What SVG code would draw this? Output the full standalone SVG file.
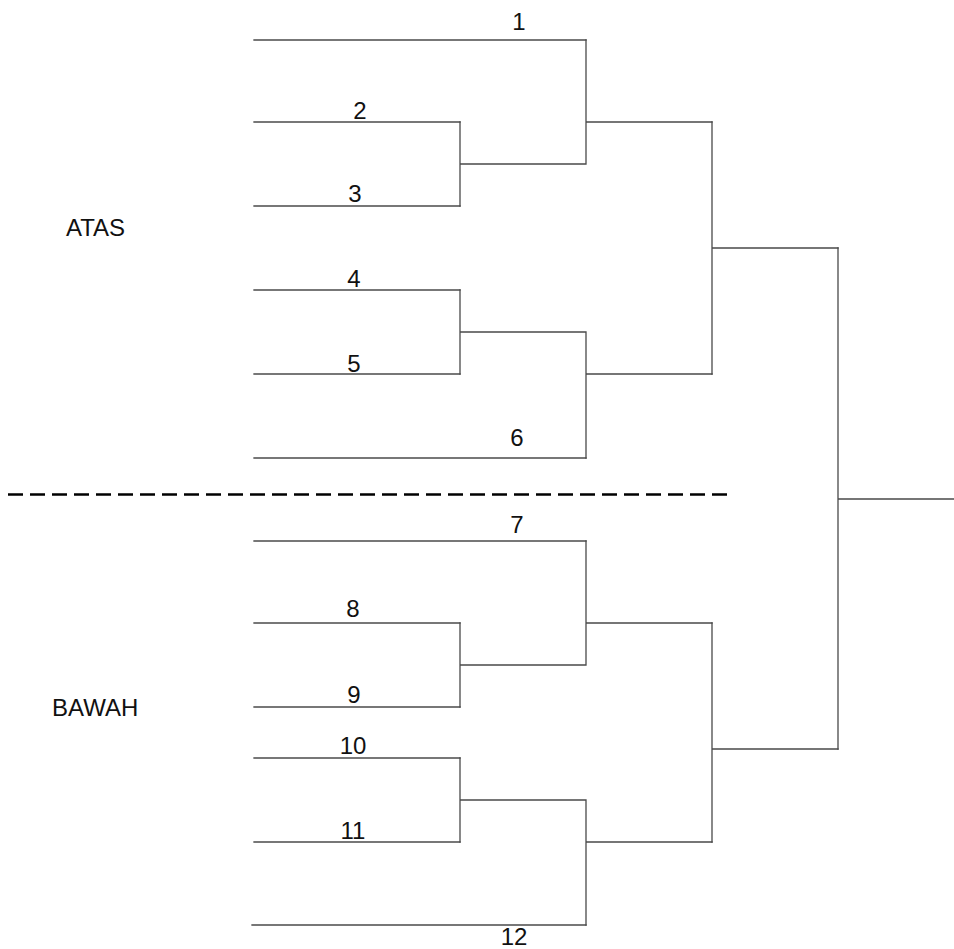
<svg xmlns="http://www.w3.org/2000/svg" width="954" height="949" viewBox="0 0 954 949">
<style>
.ln{stroke:#4a4a4a;stroke-width:1.3;fill:none;stroke-linecap:square}
.t{font-family:"Liberation Sans",Arial,sans-serif;font-size:24px;fill:#111;text-anchor:middle}
.s{font-family:"Liberation Sans",Arial,sans-serif;font-size:24px;fill:#111}
.dash{stroke:#000;stroke-width:2.7;stroke-dasharray:15 7;fill:none}
</style>
<rect width="954" height="949" fill="#fff"/>
<g id="section-labels">
<text class="s" x="66" y="236">ATAS</text>
<text class="s" x="52" y="716">BAWAH</text>
</g>
<g id="divider"><line class="dash" x1="8" y1="494.5" x2="727" y2="494.5"/></g>
<g id="slot-1"><line class="ln" x1="254" y1="40" x2="586" y2="40"/><text class="t" x="519" y="30">1</text></g>
<g id="slot-2"><line class="ln" x1="254" y1="122" x2="460" y2="122"/><text class="t" x="360" y="119">2</text></g>
<g id="slot-3"><line class="ln" x1="254" y1="206" x2="460" y2="206"/><text class="t" x="355" y="202">3</text></g>
<g id="slot-4"><line class="ln" x1="254" y1="290" x2="460" y2="290"/><text class="t" x="354" y="287">4</text></g>
<g id="slot-5"><line class="ln" x1="254" y1="374" x2="460" y2="374"/><text class="t" x="354" y="372">5</text></g>
<g id="slot-6"><line class="ln" x1="254" y1="458" x2="586" y2="458"/><text class="t" x="517" y="446">6</text></g>
<g id="slot-7"><line class="ln" x1="254" y1="541" x2="586" y2="541"/><text class="t" x="517" y="533">7</text></g>
<g id="slot-8"><line class="ln" x1="254" y1="623" x2="460" y2="623"/><text class="t" x="353" y="617">8</text></g>
<g id="slot-9"><line class="ln" x1="254" y1="707" x2="460" y2="707"/><text class="t" x="354" y="703">9</text></g>
<g id="slot-10"><line class="ln" x1="254" y1="758" x2="460" y2="758"/><text class="t" x="353" y="754">10</text></g>
<g id="slot-11"><line class="ln" x1="254" y1="842" x2="460" y2="842"/><text class="t" x="353" y="839">11</text></g>
<g id="slot-12"><line class="ln" x1="252" y1="925" x2="586" y2="925"/><text class="t" x="514" y="945">12</text></g>
<g id="connectors">
<path class="ln" d="M460 122V206M460 164H586M586 40V164M586 122H712"/>
<path class="ln" d="M460 290V374M460 332H586M586 332V458M586 374H712"/>
<path class="ln" d="M712 122V374M712 248H838"/>
<path class="ln" d="M460 623V707M460 665H586M586 541V665M586 623H712"/>
<path class="ln" d="M460 758V842M460 800H586M586 800V925M586 842H712"/>
<path class="ln" d="M712 623V842M712 749H838"/>
<path class="ln" d="M838 248V749M838 499H954"/>
</g>
</svg>
